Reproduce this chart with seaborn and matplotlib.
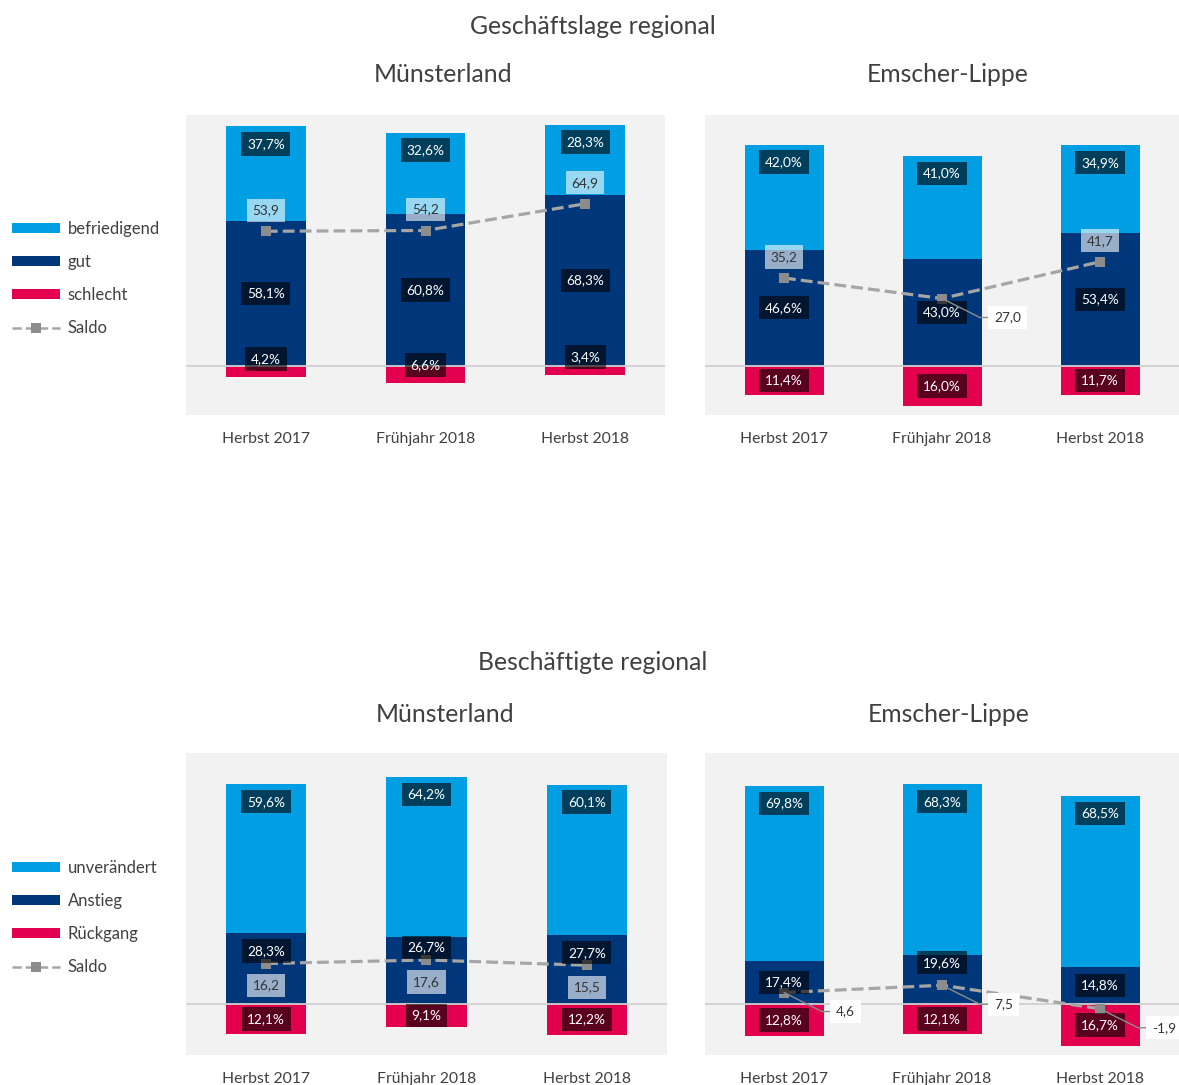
import numpy as np
import pandas as pd
import matplotlib
matplotlib.use("Agg")
import matplotlib.pyplot as plt
from matplotlib.patches import Patch
from matplotlib.lines import Line2D
import seaborn as sns

# ---------------- data ----------------
periods = ["Herbst 2017", "Frühjahr 2018", "Herbst 2018"]

# Geschäftslage regional
gl_ms_befr = [37.7, 32.6, 28.3]
gl_ms_gut = [58.1, 60.8, 68.3]
gl_ms_schl = [4.2, 6.6, 3.4]
gl_ms_saldo = [53.9, 54.2, 64.9]

gl_el_befr = [42.0, 41.0, 34.9]
gl_el_gut = [46.6, 43.0, 53.4]
gl_el_schl = [11.4, 16.0, 11.7]
gl_el_saldo = [35.2, 27.0, 41.7]

# Beschäftigte regional
be_ms_unv = [59.6, 64.2, 60.1]
be_ms_anst = [28.3, 26.7, 27.7]
be_ms_rueck = [12.1, 9.1, 12.2]
be_ms_saldo = [16.2, 17.6, 15.5]

be_el_unv = [69.8, 68.3, 68.5]
be_el_anst = [17.4, 19.6, 14.8]
be_el_rueck = [12.8, 12.1, 16.7]
be_el_saldo = [4.6, 7.5, -1.9]

legend_top = ["befriedigend", "gut", "schlecht", "Saldo"]
legend_bottom = ["unverändert", "Anstieg", "Rückgang", "Saldo"]

# ---------------- style ----------------
C_LIGHT = "#009fe3"
C_DARK = "#00377a"
C_RED = "#e2004f"
C_BG = "#f2f2f2"
C_TXT = "#404040"
C_SALDO = "#a6a6a6"
C_MARK = "#8c8c8c"

sns.set_style("white")
plt.rcParams["font.family"] = ["Lato", "DejaVu Sans"]

W, H = 1179, 1085
fig = plt.figure(figsize=(W / 100, H / 100), dpi=100)
fig.patch.set_facecolor("white")


def fmt(v, pct=True):
    s = f"{v:.1f}".replace(".", ",")
    return s + "%" if pct else s


def panel(rect, top, mid, low, saldo, placement, ylim):
    l, t, r, b = rect
    ax = fig.add_axes([l / W, 1 - b / H, (r - l) / W, (b - t) / H])
    ax.set_facecolor(C_BG)
    df = pd.DataFrame({
        "Periode": periods,
        "total": [m + u for m, u in zip(mid, top)],
        "mid": mid,
        "neg": [-v for v in low],
    })
    for col, c in [("total", C_LIGHT), ("mid", C_DARK), ("neg", C_RED)]:
        sns.barplot(data=df, x="Periode", y=col, color=c, width=0.5,
                    saturation=1, edgecolor="none", ax=ax, zorder=2)
    ax.axhline(0, color="#d0d0d0", lw=1.3, zorder=3)
    sns.lineplot(x=[0, 1, 2], y=saldo, ax=ax, color=C_SALDO, lw=2.3,
                 linestyle="--", marker="s", markersize=7,
                 markerfacecolor=C_MARK, markeredgewidth=0, zorder=5)
    dark_box = dict(boxstyle="square,pad=0.42", fc=(0, 0, 0, 0.6), ec="none")
    light_box = dict(boxstyle="square,pad=0.42", fc=(1, 1, 1, 0.6), ec="none")
    white_box = dict(boxstyle="square,pad=0.42", fc="white", ec="none")
    fs = 9.8
    for i in range(3):
        tot = mid[i] + top[i]
        ax.text(i, tot - 7, fmt(top[i]), ha="center", va="center",
                color="white", fontsize=fs, bbox=dark_box, zorder=6)
        ym = mid[i] / 2
        if placement[i] == "below":
            ym = saldo[i] + 5
        elif abs(ym - saldo[i]) < 3.5:
            ym = saldo[i] + 9
        ax.text(i, ym, fmt(mid[i]), ha="center", va="center",
                color="white", fontsize=fs, bbox=dark_box, zorder=6)
        yl = -low[i] / 2 if low[i] >= 9 else 7 - low[i]
        ax.text(i, yl, fmt(low[i]), ha="center", va="center",
                color="white", fontsize=fs, bbox=dark_box, zorder=6)
        p = placement[i]
        if p == "above":
            ax.text(i, saldo[i] + 8.4, fmt(saldo[i], False), ha="center",
                    va="center", color="#333333", fontsize=fs,
                    bbox=light_box, zorder=7)
        elif p == "below":
            ax.text(i, saldo[i] - 8.8, fmt(saldo[i], False), ha="center",
                    va="center", color="#333333", fontsize=fs,
                    bbox=light_box, zorder=7)
        else:
            ax.plot([i, i + 0.24, i + 0.3], [saldo[i], saldo[i] - 7.6, saldo[i] - 7.6],
                    color="#8c8c8c", lw=1.0, zorder=6)
            ax.text(i + 0.33, saldo[i] - 7.6, fmt(saldo[i], False), ha="left",
                    va="center", color="#333333", fontsize=fs,
                    bbox=white_box, zorder=7, clip_on=False)
    ax.set_xlim(-0.5, 2.5)
    ax.set_ylim(*ylim)
    ax.set_xlabel("")
    ax.set_ylabel("")
    ax.set_yticks([])
    ax.tick_params(axis="x", length=0, pad=12, labelsize=11.3, labelcolor=C_TXT)
    for s in ax.spines.values():
        s.set_visible(False)
    return ax


panel((186, 115, 665, 415), gl_ms_befr, gl_ms_gut, gl_ms_schl, gl_ms_saldo,
      ["above", "above", "above"], (-19.6, 100.4))
panel((705, 115, 1179, 415), gl_el_befr, gl_el_gut, gl_el_schl, gl_el_saldo,
      ["above", "callout", "above"], (-19.6, 100.4))
panel((186, 753, 667, 1055), be_ms_unv, be_ms_anst, be_ms_rueck, be_ms_saldo,
      ["below", "below", "below"], (-20.4, 100.4))
panel((705, 753, 1179, 1055), be_el_unv, be_el_anst, be_el_rueck, be_el_saldo,
      ["callout", "callout", "callout"], (-20.4, 100.4))

# titles
TFS = 17.8
fig.text(593 / W, 1 - 27 / H, "Geschäftslage regional", ha="center", va="center",
         fontsize=TFS, color=C_TXT)
fig.text(443 / W, 1 - 75 / H, "Münsterland", ha="center", va="center",
         fontsize=TFS, color=C_TXT)
fig.text(948 / W, 1 - 74 / H, "Emscher-Lippe", ha="center", va="center",
         fontsize=TFS, color=C_TXT)
fig.text(593 / W, 1 - 662 / H, "Beschäftigte regional", ha="center", va="center",
         fontsize=TFS, color=C_TXT)
fig.text(445 / W, 1 - 715 / H, "Münsterland", ha="center", va="center",
         fontsize=TFS, color=C_TXT)
fig.text(949 / W, 1 - 715 / H, "Emscher-Lippe", ha="center", va="center",
         fontsize=TFS, color=C_TXT)


def legend(labels, top_y):
    handles = [Patch(fc=C_LIGHT, ec="none"), Patch(fc=C_DARK, ec="none"),
               Patch(fc=C_RED, ec="none"),
               Line2D([], [], color=C_SALDO, ls="--", lw=1.8, marker="s",
                      markersize=7, markerfacecolor=C_MARK, markeredgewidth=0)]
    leg = fig.legend(handles, labels, loc="upper left",
                     bbox_to_anchor=(12 / W, 1 - top_y / H), frameon=False,
                     fontsize=12, handlelength=2.9, handleheight=0.5,
                     handletextpad=0.45, labelspacing=1.02, borderpad=0,
                     borderaxespad=0, labelcolor=C_TXT)
    return leg


legend(legend_top, 221)
legend(legend_bottom, 860)

fig.savefig("out.png", dpi=100, facecolor="white")
